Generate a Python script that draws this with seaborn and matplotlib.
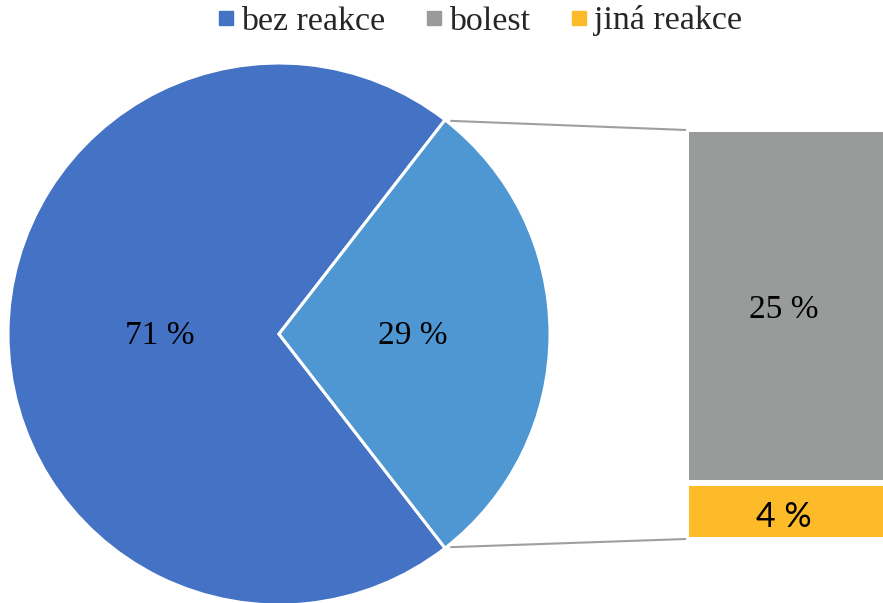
import numpy as np
import matplotlib
matplotlib.use("Agg")
import matplotlib.pyplot as plt
from matplotlib.lines import Line2D
import seaborn as sns

# Reaction categories and shares (percent)
pie_labels = ["bez reakce", "reakce"]
pie_values = [71, 29]
bar_labels = ["bolest", "jiná reakce"]
bar_values = [25, 4]

legend_labels = ["bez reakce", "bolest", "jiná reakce"]
c_dark_blue = "#4472C4"
c_light_blue = "#4F97D3"
c_gray = "#999B9B"
c_orange = "#FDBB2A"
c_line = "#A09E9E"

sns.set_theme(style="white")
plt.rcParams["font.family"] = ["Liberation Serif", "DejaVu Serif"]

W, H = 883, 603
fig = plt.figure(figsize=(W / 100, H / 100), dpi=100)
fig.patch.set_facecolor("white")

# Full-figure axes in pixel units for the pie and connector lines
ax = fig.add_axes([0, 0, 1, 1])
cx, cy, r = 279, H - 334, 271
half = pie_values[1] / sum(pie_values) * 360 / 2
wedges, _ = ax.pie(
    pie_values,
    colors=[c_dark_blue, c_light_blue],
    startangle=half,
    center=(cx, cy),
    radius=r,
    wedgeprops=dict(edgecolor="white", linewidth=2.2),
)
ax.set_xlim(0, W)
ax.set_ylim(0, H)
ax.set_aspect("equal")
ax.axis("off")

# Percent labels inside the slices
label_dist = [0.44, 0.495]
for w, v, d in zip(wedges, pie_values, label_dist):
    mid = np.deg2rad((w.theta1 + w.theta2) / 2)
    ax.text(cx + d * r * np.cos(mid), cy + d * r * np.sin(mid) - 2, f"{v} %",
            ha="center", va="center", fontsize=24, color="black")

# Stacked bar breaking down the smaller slice
bx0, bx1 = 686, 886
by0, by1 = H - 540, H - 129
bax = fig.add_axes([bx0 / W, by0 / H, (bx1 - bx0) / W, (by1 - by0) / H])
total = sum(bar_values)
sns.barplot(x=[0], y=[total], color=c_gray, saturation=1, width=1,
            edgecolor="white", linewidth=4.3, ax=bax)
sns.barplot(x=[0], y=[bar_values[1]], color=c_orange, saturation=1, width=1,
            edgecolor="white", linewidth=4.3, ax=bax)
bax.set_xlim(-0.5, 0.5)
bax.set_ylim(0, total)
bax.axis("off")
bax.text(-0.01, bar_values[1] + bar_values[0] / 2 - 0.25, f"{bar_values[0]} %",
         ha="center", va="center", fontsize=24, color="black")
bax.text(-0.01, bar_values[1] / 2 - 0.35, f"{bar_values[1]} %", ha="center",
         va="center", fontsize=24.5, color="black", family=["Lato", "DejaVu Sans"])

# Connector lines from slice edges to bar corners
a = np.deg2rad(half)
tx, ty = cx + r * np.cos(a), r * np.sin(a)
ax.add_line(Line2D([tx + 6, 686], [cy + ty - 1, H - 130], color=c_line, lw=1.5))
ax.add_line(Line2D([tx + 6, 686], [cy - ty + 1, H - 539], color=c_line, lw=1.5))

# Legend
handles = [Line2D([], [], marker="s", linestyle="none", markersize=9.5,
                  markerfacecolor=c, markeredgecolor=c)
           for c in [c_dark_blue, c_gray, c_orange]]
fig.legend(handles, legend_labels, loc="center", bbox_to_anchor=(0.5435, 1 - 21 / H),
           ncol=3, frameon=False, fontsize=24.5, handlelength=0.5,
           handletextpad=0.18, columnspacing=1.2, borderaxespad=0, borderpad=0)

fig.savefig("out.png", dpi=100, facecolor="white")
